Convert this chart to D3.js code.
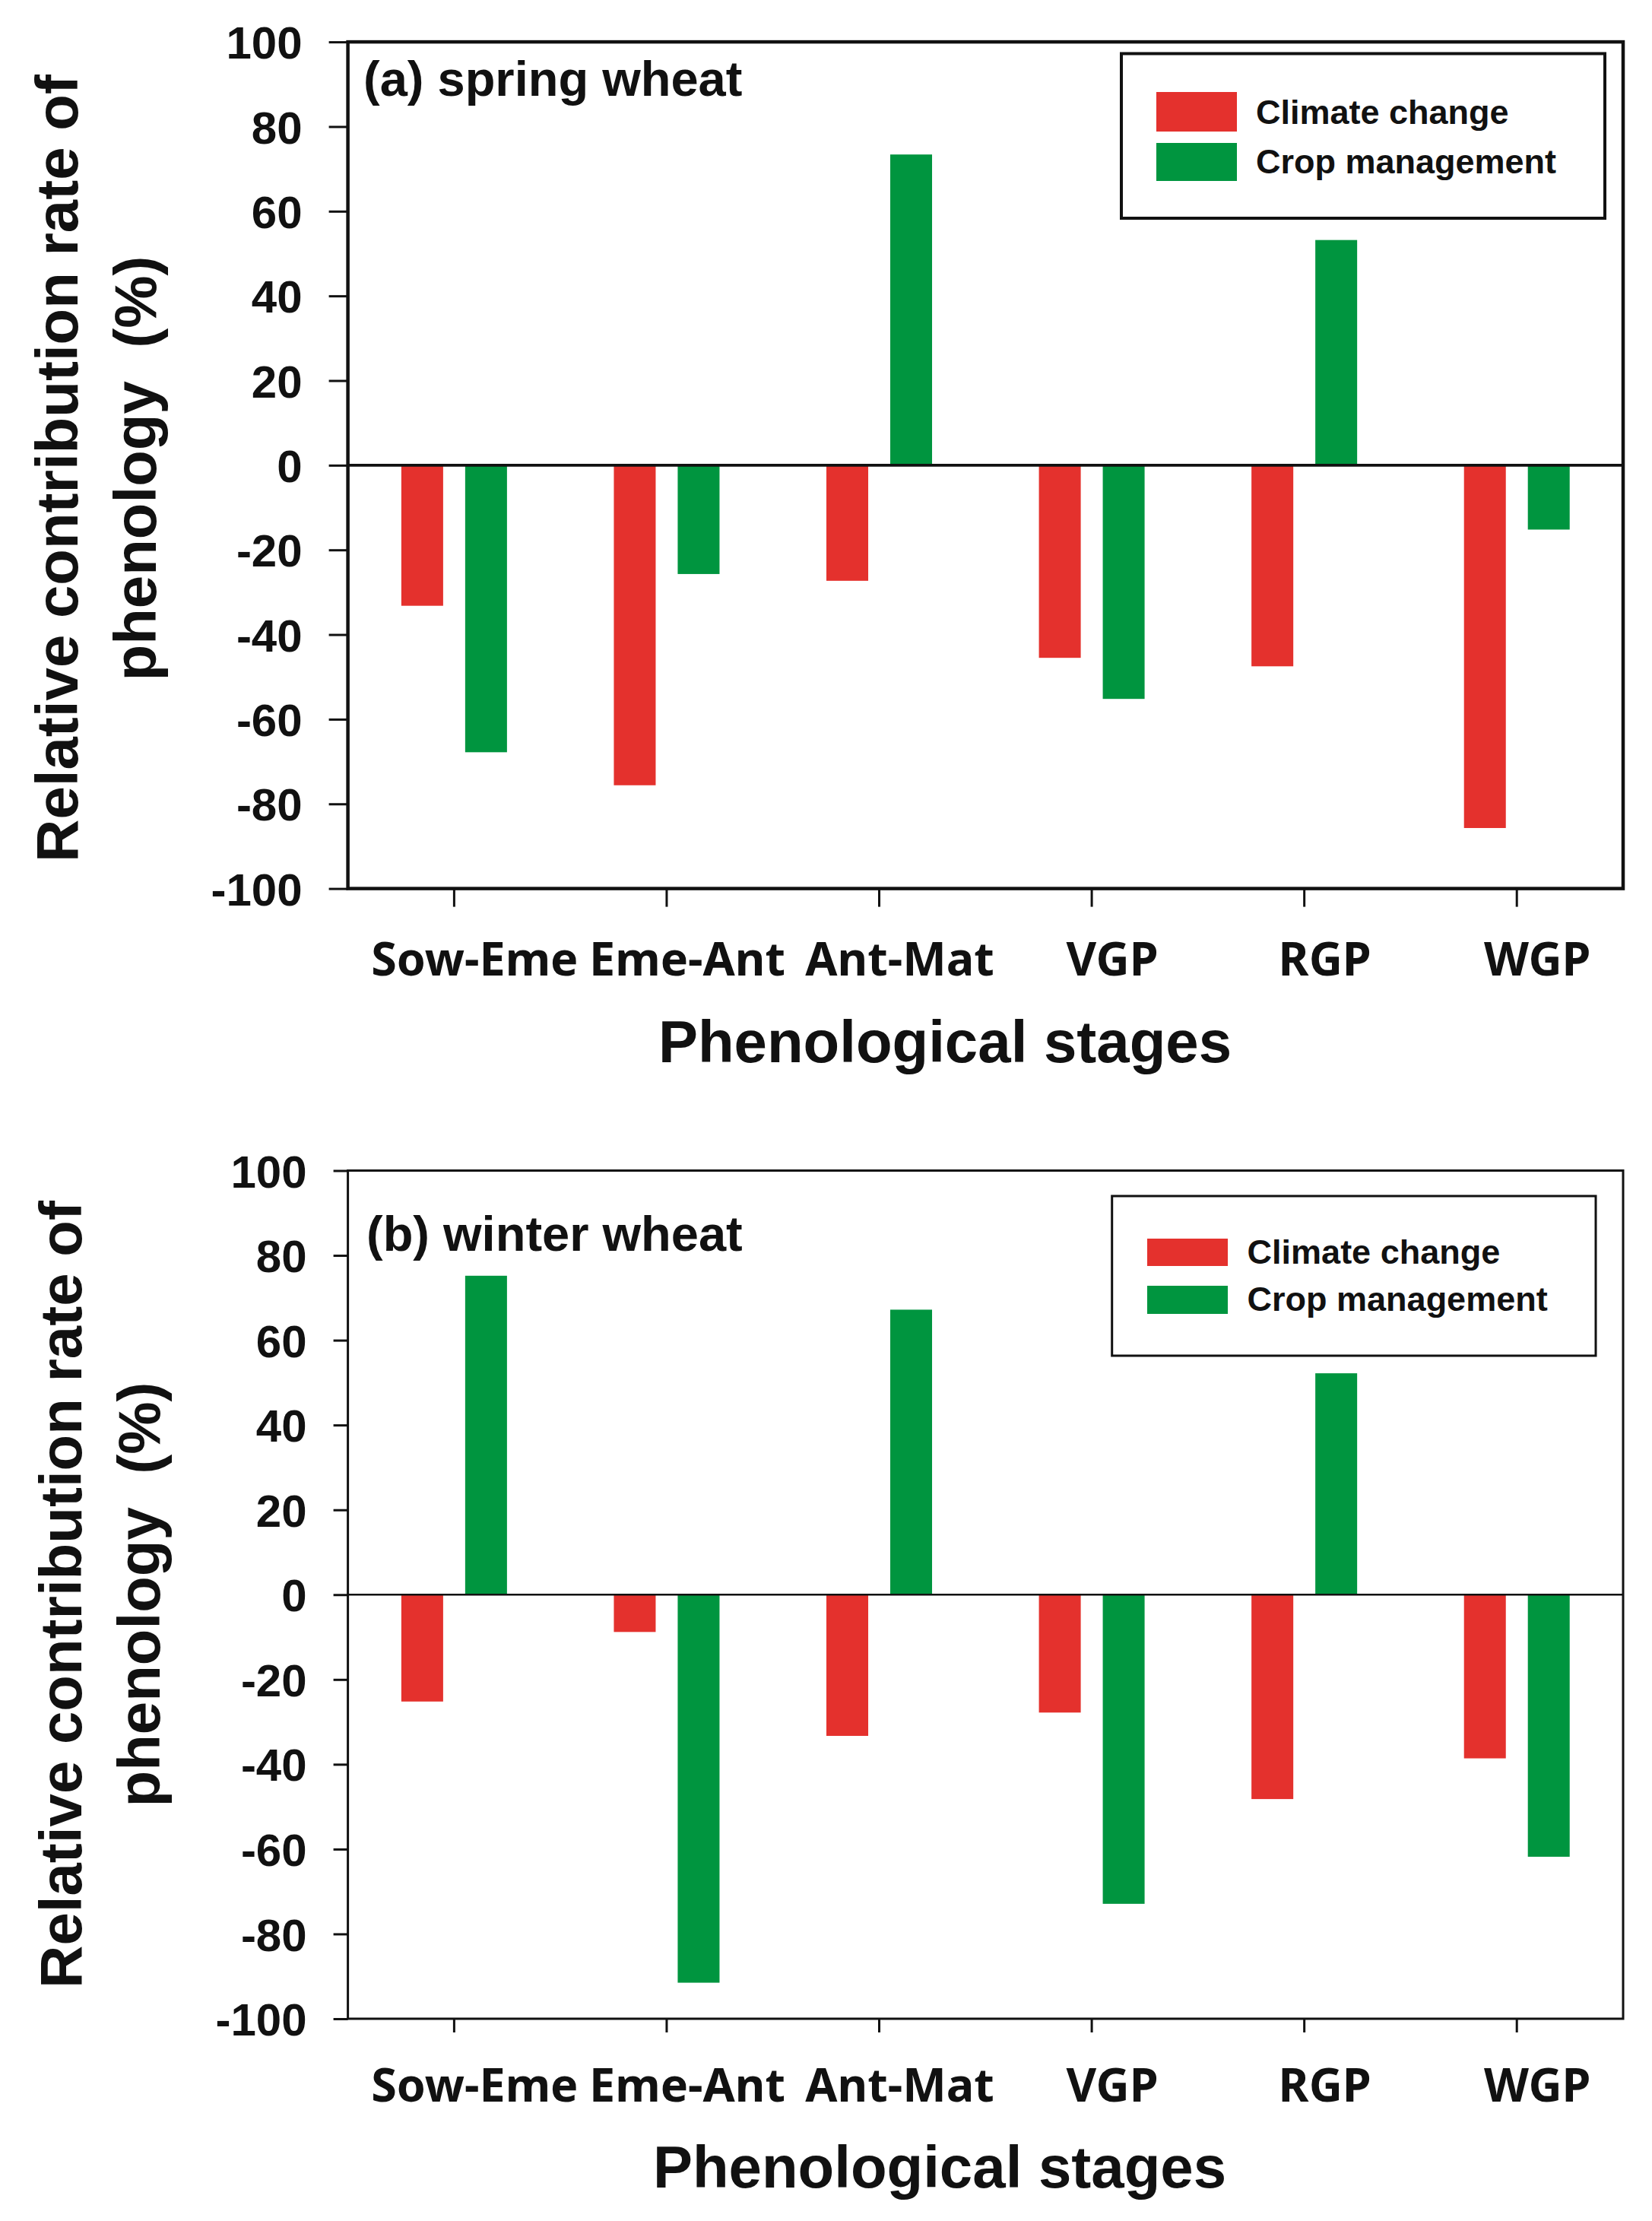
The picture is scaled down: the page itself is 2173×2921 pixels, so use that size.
<!DOCTYPE html>
<html lang="en">
<head>
  <meta charset="UTF-8">
  <title>Relative contribution rate of phenology</title>
  <script src="https://d3js.org/d3.v7.min.js"></script>
  <style>
    body { margin: 0; background: #fff; }
    text { font-family: "Liberation Sans", Arial, sans-serif; font-weight: bold; fill: #111; }
    .cat text { font-family: "Noto Sans", "Open Sans", sans-serif; }
  </style>
</head>
<body>
<script>
  // ---- data ----
  const stages = ["Sow-Eme", "Eme-Ant", "Ant-Mat", "VGP", "RGP", "WGP"];
  const seriesNames = ["Climate change", "Crop management"];
  const seriesColors = ["#e4312d", "#00953f"];
  const springClimate = [-33.2, -75.6, -27.3, -45.5, -47.5, -85.7];
  const springCrop = [-67.8, -25.7, 73.4, -55.2, 53.2, -15.2];
  const winterClimate = [-25.2, -8.8, -33.3, -27.8, -48.2, -38.6];
  const winterCrop = [75.2, -91.5, 67.2, -72.9, 52.2, -61.8];
  const yTicks = [100, 80, 60, 40, 20, 0, -20, -40, -60, -80, -100];

  const W = 2173, H = 2921;
  const left = 457.6, right = 2135;

  const svg = d3.select("body").append("svg")
    .attr("width", W)
    .attr("height", H);
  svg.append("rect").attr("width", W).attr("height", H).attr("fill", "#fff");

  // panel layouts
  const panels = [
    {
      title: "(a) spring wheat", values: [springClimate, springCrop],
      top: 55.1, bottom: 1168.6, frameW: 4.5, tickY: 25, tickX: 24,
      titleX: 478, titleY: 126,
      leg: { x0: 1475, y0: 70.5, x1: 2111, y1: 287, sx: 1521, sw: 106, sy: [121, 188], sh: [52, 50], tx: 1652, ty: [163, 228], lw: 4 },
      ylab: { x1: 102, x2: 205, cy: 616 },
      catY: 1283.5, xtX: 1243, xtY: 1396.5
    },
    {
      title: "(b) winter wheat", values: [winterClimate, winterCrop],
      top: 1539.5, bottom: 2655, frameW: 3, tickY: 19, tickX: 18,
      titleX: 482, titleY: 1645,
      leg: { x0: 1462.7, y0: 1573, x1: 2099, y1: 1783, sx: 1509, sw: 106, sy: [1629, 1691], sh: [36, 37], tx: 1640.6, ty: [1662, 1724], lw: 3 },
      ylab: { x1: 107, x2: 210, cy: 2097 },
      catY: 2764, xtX: 1236, xtY: 2877
    }
  ];

  const x = d3.scaleBand().domain(stages).range([left, right]);
  const xSub = d3.scaleBand().domain(seriesNames).range([-69.5, 69.5]).paddingInner(0.345);

  panels.forEach(p => {
    const g = svg.append("g");
    const y = d3.scaleLinear().domain([-100, 100]).range([p.bottom, p.top]);

    // bars
    seriesNames.forEach((s, si) => {
      g.selectAll(null)
        .data(p.values[si])
        .enter().append("rect")
        .attr("x", (d, i) => x(stages[i]) + x.bandwidth() / 2 + xSub(s))
        .attr("width", xSub.bandwidth())
        .attr("y", d => y(Math.max(0, d)))
        .attr("height", d => Math.abs(y(d) - y(0)))
        .attr("fill", seriesColors[si]);
    });

    // zero line
    g.append("line")
      .attr("x1", left).attr("x2", right)
      .attr("y1", y(0)).attr("y2", y(0))
      .attr("stroke", "#111").attr("stroke-width", p.frameW * 0.8);

    // frame
    g.append("rect")
      .attr("x", left).attr("y", p.top)
      .attr("width", right - left).attr("height", p.bottom - p.top)
      .attr("fill", "none").attr("stroke", "#111").attr("stroke-width", p.frameW);

    // y axis (plain hyphen minus like the original)
    const ya = g.append("g")
      .attr("transform", `translate(${left},0)`)
      .call(d3.axisLeft(y).tickValues(yTicks).tickFormat(d => String(d))
        .tickSize(p.tickY).tickPadding(35));
    ya.select(".domain").remove();
    ya.selectAll("line").attr("stroke", "#111").attr("stroke-width", 3);
    ya.selectAll("text").attr("font-size", 60).attr("dy", "0.36em");

    // x axis
    const xa = g.append("g")
      .attr("class", "cat")
      .attr("transform", `translate(0,${p.bottom})`)
      .call(d3.axisBottom(x).tickSize(p.tickX));
    xa.select(".domain").remove();
    xa.selectAll("line").attr("stroke", "#111").attr("stroke-width", 3);
    xa.selectAll("text")
      .attr("font-size", 61)
      .attr("x", 27)
      .attr("y", p.catY - p.bottom)
      .attr("dy", 0);

    // panel title
    g.append("text")
      .attr("x", p.titleX).attr("y", p.titleY)
      .attr("font-size", 65)
      .text(p.title);

    // legend
    const L = p.leg;
    g.append("rect")
      .attr("x", L.x0).attr("y", L.y0)
      .attr("width", L.x1 - L.x0).attr("height", L.y1 - L.y0)
      .attr("fill", "#fff").attr("stroke", "#111").attr("stroke-width", L.lw);
    seriesNames.forEach((s, si) => {
      g.append("rect")
        .attr("x", L.sx).attr("y", L.sy[si])
        .attr("width", L.sw).attr("height", L.sh[si])
        .attr("fill", seriesColors[si]);
      g.append("text")
        .attr("x", L.tx).attr("y", L.ty[si])
        .attr("font-size", 45)
        .text(s);
    });

    // y axis label, two lines
    g.append("text")
      .attr("transform", `translate(${p.ylab.x1},${p.ylab.cy}) rotate(-90)`)
      .attr("text-anchor", "middle")
      .attr("font-size", 78)
      .text("Relative contribution rate of");
    g.append("text")
      .attr("transform", `translate(${p.ylab.x2},${p.ylab.cy}) rotate(-90)`)
      .attr("text-anchor", "middle")
      .attr("font-size", 78)
      .style("white-space", "pre")
      .text("phenology  (%)");

    // x axis title
    g.append("text")
      .attr("x", p.xtX).attr("y", p.xtY)
      .attr("text-anchor", "middle")
      .attr("font-size", 78)
      .text("Phenological stages");
  });
</script>
</body>
</html>
